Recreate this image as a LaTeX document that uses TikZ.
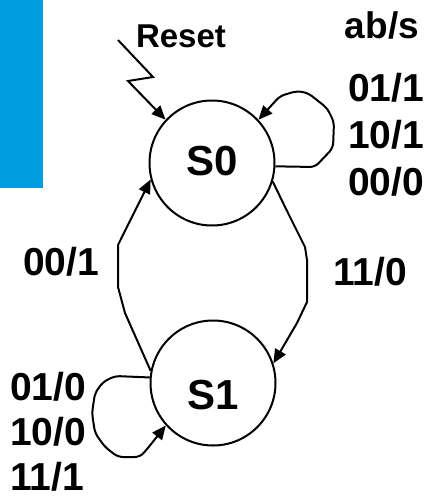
\documentclass[tikz,border=0pt]{standalone}
\usepackage{fontspec}
\setmainfont{Liberation Sans}
\usetikzlibrary{arrows.meta}
\definecolor{barblue}{RGB}{0,158,224}
\begin{document}
\begin{tikzpicture}[x=1pt,y=-1pt,
  state/.style={circle,draw,line width=2pt,minimum size=125pt,inner sep=0pt,
    font=\fontsize{42}{48}\selectfont\bfseries},
  edge/.style={line width=2pt,-{Triangle[length=14pt,width=12pt]}},
  lbl/.style={inner sep=0pt,font=\fontsize{39}{46}\selectfont\bfseries},
  stack/.style={lbl,align=left,anchor=north west}]
\useasboundingbox (0,0) rectangle (433,498);
\fill[barblue] (0,0) rectangle (43,188);

% states (names set with zero-size boxes so they can sit off centre)
\node[state] (S0) at (212,163) {\raisebox{-12pt}[0pt][0pt]{S0}};
\node[state] (S1) at (213,383) {\raisebox{-26pt}[0pt][0pt]{S1}};

% reset arrow
\coordinate (rst) at (118,40);
\node[lbl,anchor=base,font=\fontsize{33}{40}\selectfont\bfseries] (resetlbl) at (181,47) {Reset};
\draw[edge] (rst) -- (153,77) -- (128,81) -- (S0.137);

% self loop on S0
\draw[edge,rounded corners=5pt] (S0.-3) -- (315,167) -- (333,148) -- (334,122)
  -- (327,108) -- (308,93) -- (297,91) -- (280,96) -- (S0.43);

% S0 -> S1
\draw[edge] (S0.-17) -- (288,213) -- (305,247) -- (307,260) -- (307,302)
  -- (297,323) -- (S1.18);

% S1 -> S0
\draw[edge] (S1.169) -- (125,313) -- (118,287) -- (118,245) -- (S0.195);

% self loop on S1
\draw[edge,rounded corners=5pt] (S1.175) -- (115,376) -- (103,382) -- (95,393)
  -- (92,413) -- (95,433) -- (105,447) -- (118,457) -- (140,457) -- (148,448)
  -- (S1.222);

% labels
\node[lbl,anchor=base,font=\fontsize{37}{44}\selectfont\bfseries] (io) at (382,38) {ab/s};
\node[stack,font=\fontsize{39}{47}\selectfont\bfseries] (l0) at (348,73) {01/1\\10/1\\00/0};
\node[lbl,anchor=base west] (l01) at (23,275) {00/1};
\node[lbl,anchor=base west] (l10) at (333,285) {11/0};
\node[stack,font=\fontsize{39}{45}\selectfont\bfseries] (l1) at (10,372) {01/0\\10/0\\11/1};
\end{tikzpicture}
\end{document}
